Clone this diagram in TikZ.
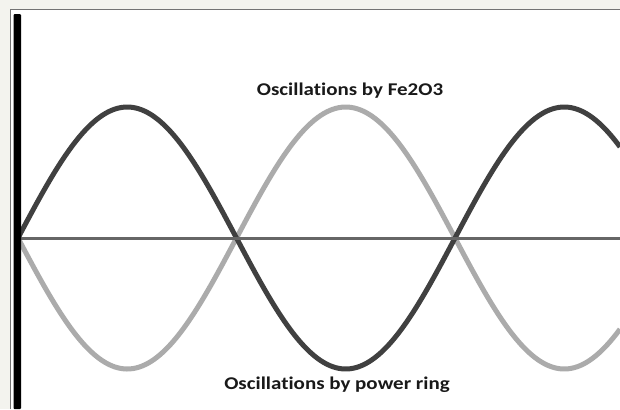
\documentclass[tikz,border=0pt]{standalone}
\usepackage{fontspec}
\setmainfont{Carlito}[Ligatures=NoCommon]
\begin{document}
\begin{tikzpicture}[x=1bp,y=-1bp,
  darkwave/.style={line width=5bp,color=black!75},
  lightwave/.style={line width=5bp,color=black!33},
  axisline/.style={line width=3bp,color=black!60},
  lbl/.style={font=\bfseries\fontsize{18}{18}\selectfont,text=black!90,inner sep=0pt,xscale=1.17}]
\useasboundingbox (0,0) rectangle (620,409);
\fill[color={rgb,255:red,243;green,243;blue,238}] (0,0) rectangle (620,409);
\fill[white] (10.5,9.5) rectangle (620,409);
\draw[line width=1.5bp,color=black!55] (10.5,409) -- (10.5,9.5) -- (620,9.5);
\begin{scope}
\clip (10,10) rectangle (620,409);
\draw[lightwave] plot[domain=18:620,samples=200,smooth] (\x,{238+131*sin((\x-18)/437*360)});
\draw[darkwave] plot[domain=18:620,samples=200,smooth] (\x,{238-131*sin((\x-18)/437*360)});
\end{scope}
\coordinate (axL) at (18,238);
\coordinate (axR) at (620,238);
\draw[axisline] (axL) -- (axR);
\fill[black,rounded corners=1bp] (13.5,409) -- (13.5,14) -- (21,14) -- (21,409) -- cycle;
\node[lbl] (top) at (350,91) {Oscillations by Fe2O3};
\node[lbl] (bot) at (337,385) {Oscillations by power ring};
\end{tikzpicture}
\end{document}
